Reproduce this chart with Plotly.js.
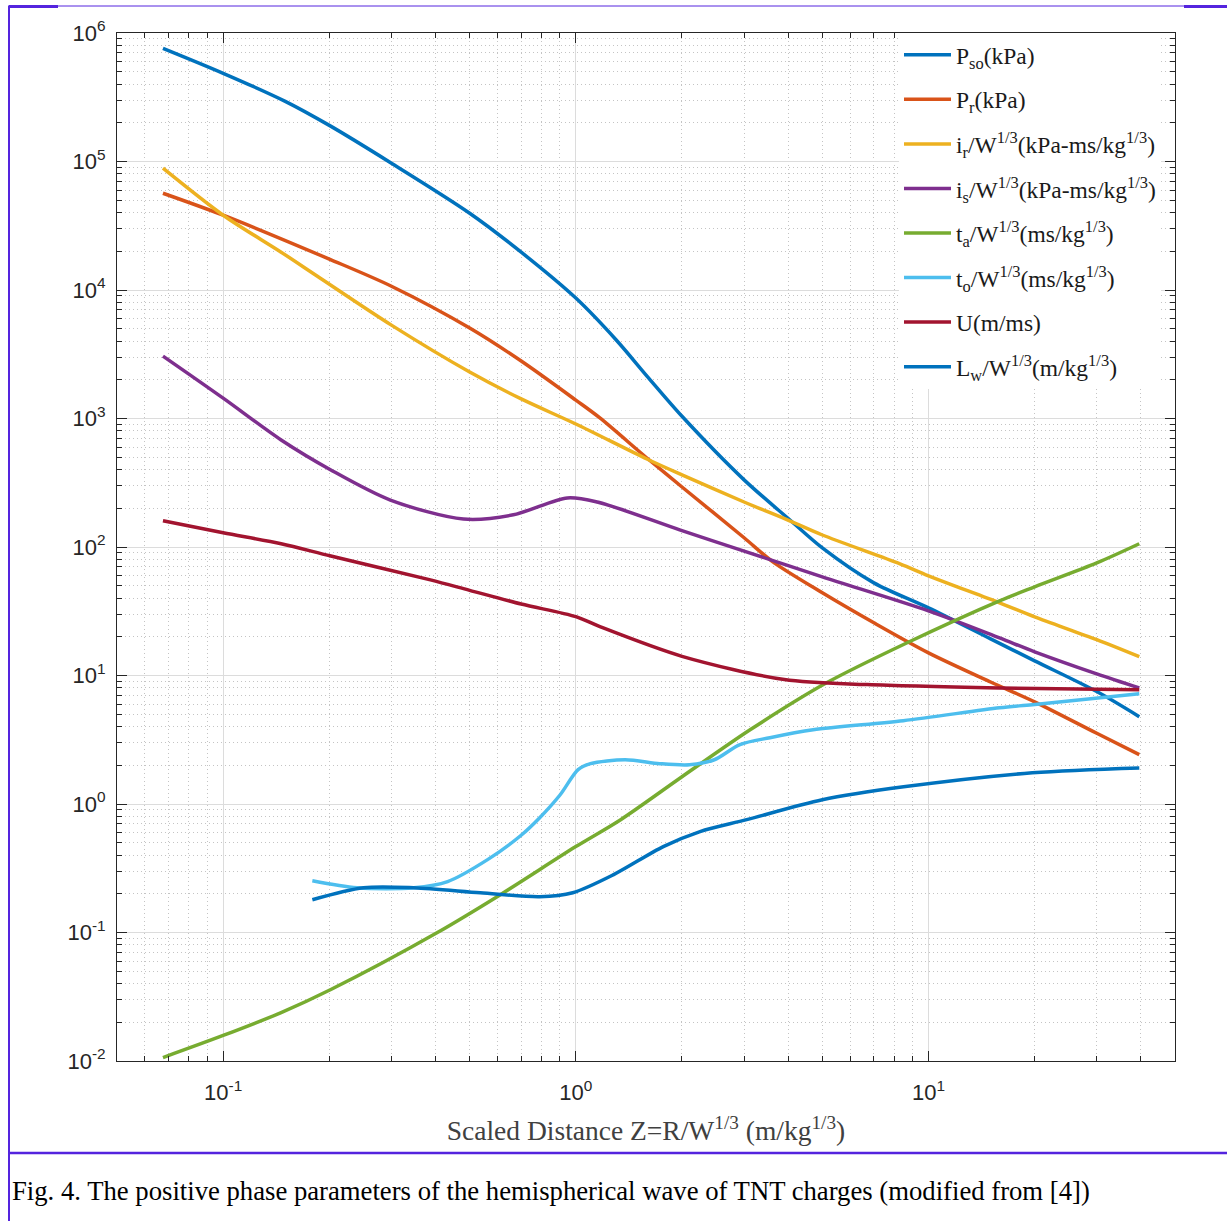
<!DOCTYPE html>
<html>
<head>
<meta charset="utf-8">
<script src="https://cdn.plot.ly/plotly-3.0.1.min.js"></script>
<style>
  html, body { margin: 0; padding: 0; background: #ffffff; }
  #chart { width: 1227px; height: 1221px; }
</style>
</head>
<body>
<div id="chart"></div>
<script>
// ---------------- data ----------------
const seriesNames = [
  'P<sub>so</sub>(kPa)',
  'P<sub>r</sub>(kPa)',
  'i<sub>r</sub>/W<sup>1/3</sup>(kPa-ms/kg<sup>1/3</sup>)',
  'i<sub>s</sub>/W<sup>1/3</sup>(kPa-ms/kg<sup>1/3</sup>)',
  't<sub>a</sub>/W<sup>1/3</sup>(ms/kg<sup>1/3</sup>)',
  't<sub>o</sub>/W<sup>1/3</sup>(ms/kg<sup>1/3</sup>)',
  'U(m/ms)',
  'L<sub>w</sub>/W<sup>1/3</sup>(m/kg<sup>1/3</sup>)'
];
const seriesColors = ['#0072BD', '#D95319', '#EDB120', '#7E2F8E', '#77AC30', '#4DBEEE', '#A2142F', '#0072BD'];

const psoZ = [0.0675, 0.1, 0.15, 0.2, 0.3, 0.5, 0.7, 1.0, 1.3, 1.6, 2.0, 3.0, 4.04, 5.0, 7.0, 10, 15, 20, 30, 39.6];
const psoV = [7.6e5, 4.86e5, 2.94e5, 1.91e5, 9.7e4, 3.96e4, 1.97e4, 8.65e3, 4.1e3, 2.1e3, 1.04e3, 333, 163, 98.4, 52.6, 33.6, 19.3, 13.0, 7.5, 4.78];

const prZ = [0.0675, 0.1, 0.2, 0.3, 0.5, 0.7, 1.0, 1.17, 1.59, 2.0, 3.0, 3.62, 5.0, 7.0, 10, 15, 20, 30, 39.6];
const prV = [5.66e4, 3.82e4, 1.74e4, 1.07e4, 5.06e3, 2.8e3, 1.39e3, 1.01e3, 493, 293, 118, 76.6, 44, 25.7, 15.0, 8.9, 6.24, 3.55, 2.42];

const irZ = [0.0675, 0.1, 0.146, 0.185, 0.3, 0.5, 0.7, 1.0, 1.59, 2.0, 3.0, 4.04, 5.0, 8.3, 10, 15.9, 20, 30, 39.6];
const irV = [8.87e4, 3.82e4, 1.97e4, 1.28e4, 5.33e3, 2.3e3, 1.42e3, 906, 484, 364, 224, 160, 124, 74, 59.7, 36.8, 28.6, 19, 14];

const isZ = [0.0675, 0.1, 0.146, 0.202, 0.298, 0.48, 0.665, 0.946, 1.15, 1.97, 3.0, 5.0, 10, 15.9, 20, 30, 39.6];
const isV = [3060, 1440, 681, 398, 232, 165, 178, 241, 224, 136, 93, 58.5, 31.8, 19.6, 15.3, 10.3, 8.0];

const taZ = [0.0675, 0.1, 0.146, 0.202, 0.405, 0.611, 1.0, 1.34, 2.0, 3.12, 5.14, 8.67, 15.9, 20, 30, 39.6];
const taV = [0.01064, 0.0158, 0.0238, 0.036, 0.1, 0.197, 0.466, 0.755, 1.63, 3.78, 8.77, 17.9, 38.1, 49, 75.2, 106];

const toZ = [0.179, 0.24, 0.347, 0.433, 0.562, 0.697, 0.79, 0.903, 1.015, 1.1, 1.38, 1.73, 2.1, 2.47, 2.92, 3.55, 4.71, 8.48, 15.9, 19.7, 39.6];
const toV = [0.253, 0.223, 0.223, 0.249, 0.369, 0.566, 0.782, 1.18, 1.85, 2.06, 2.21, 2.06, 2.02, 2.21, 2.9, 3.28, 3.78, 4.45, 5.61, 5.93, 7.21];

const uZ = [0.0675, 0.1, 0.146, 0.202, 0.387, 0.5, 0.7, 1.0, 1.17, 2.0, 3.9, 6.7, 15.9, 39.6];
const uV = [160, 129, 106, 85, 55.5, 46, 36, 28.7, 24, 14.1, 9.3, 8.5, 8.0, 7.74];

const lwZ = [0.179, 0.25, 0.347, 0.536, 0.79, 0.98, 1.28, 1.77, 2.25, 3.05, 5.0, 8.5, 19.7, 39.6];
const lwV = [0.18, 0.223, 0.223, 0.204, 0.19, 0.204, 0.282, 0.466, 0.61, 0.755, 1.08, 1.36, 1.75, 1.91];

const xTickVals = [0.1, 1, 10];
const xTickText = ['10<sup>-1</sup>', '10<sup>0</sup>', '10<sup>1</sup>'];
const yTickVals = [1e-2, 1e-1, 1, 10, 100, 1e3, 1e4, 1e5, 1e6];
const yTickText = ['10<sup>-2</sup>', '10<sup>-1</sup>', '10<sup>0</sup>', '10<sup>1</sup>', '10<sup>2</sup>',
                   '10<sup>3</sup>', '10<sup>4</sup>', '10<sup>5</sup>', '10<sup>6</sup>'];
const xTitle = 'Scaled Distance Z=R/W<sup>1/3</sup> (m/kg<sup>1/3</sup>)';
const caption = 'Fig. 4. The positive phase parameters of the hemispherical wave of TNT charges (modified from [4])';

// ---------------- build ----------------
const allZ = [psoZ, prZ, irZ, isZ, taZ, toZ, uZ, lwZ];
const allV = [psoV, prV, irV, isV, taV, toV, uV, lwV];
const traces = allZ.map((z, i) => ({
  type: 'scatter', mode: 'lines', x: z, y: allV[i], name: seriesNames[i],
  legendgroup: 'g' + i,
  line: { color: seriesColors[i], width: 3.5, shape: 'spline', smoothing: 0.85 }
}));

// minor tick positions (2..9 of each decade)
function minorVals(e0, e1) {
  const out = [];
  for (let e = e0; e <= e1; e++) for (let m = 2; m <= 9; m++) out.push(m * Math.pow(10, e));
  return out;
}

// page geometry helpers (pixels -> paper)
const W = 1227, H = 1221;
const mL = 117, mR = 52, mT = 33, mB = 160;
const pw = W - mL - mR, ph = H - mT - mB;
const px = v => (v - mL) / pw;
const py = v => (H - mB - v) / ph;
const borderColor = '#5424de';
const serif = 'Liberation Serif, Times New Roman, serif';

const axisCommon = {
  type: 'log', showline: true, linecolor: '#262626', linewidth: 1, mirror: 'ticks',
  ticks: 'inside', ticklen: 10, tickwidth: 1, tickcolor: '#262626',
  showgrid: true, gridcolor: '#dcdcdc', gridwidth: 1, zeroline: false,
  tickfont: { family: 'Liberation Sans, Arial, sans-serif', size: 22, color: '#262626' },
  tickmode: 'array'
};
const minorCommon = { tickmode: 'array', ticks: 'inside', ticklen: 5, tickcolor: '#262626',
                      showgrid: true, gridcolor: '#c4c4c4', griddash: '1px,3px', gridwidth: 1 };

const layout = {
  width: W, height: H,
  margin: { l: mL, r: mR, t: mT, b: mB },
  paper_bgcolor: '#ffffff', plot_bgcolor: '#ffffff',
  showlegend: true,
  xaxis: Object.assign({}, axisCommon, {
    range: [Math.log10(0.05), Math.log10(50)],
    tickvals: xTickVals, ticktext: xTickText, ticklabelstandoff: 12,
    minor: Object.assign({ tickvals: minorVals(-2, 1) }, minorCommon),
    title: { text: xTitle, standoff: 16, font: { family: serif, size: 27.5, color: '#404040' } }
  }),
  yaxis: Object.assign({}, axisCommon, {
    range: [-2, 6],
    tickvals: yTickVals, ticktext: yTickText, ticklabelstandoff: 6,
    minor: Object.assign({ tickvals: minorVals(-2, 5) }, minorCommon)
  }),
  legend: {
    x: px(899), y: 1, xanchor: 'left', yanchor: 'top',
    bgcolor: '#ffffff', borderwidth: 0, itemwidth: 47, tracegroupgap: 11,
    font: { family: serif, size: 23.5, color: '#1a1a1a' }
  },
  annotations: [{
    xref: 'paper', yref: 'paper', x: px(10), y: py(1191), xanchor: 'left', yanchor: 'middle',
    text: caption, showarrow: false,
    font: { family: serif, size: 26.7, color: '#000000' }
  }],
  shapes: [
    { type: 'line', xref: 'paper', yref: 'paper', x0: px(9), x1: px(9), y0: py(1221), y1: py(5.5), line: { color: borderColor, width: 2 } },
    { type: 'line', xref: 'paper', yref: 'paper', x0: px(9), x1: px(1227), y0: py(6), y1: py(6), line: { color: borderColor, width: 1 } },
    { type: 'line', xref: 'paper', yref: 'paper', x0: px(9), x1: px(58), y0: py(6.5), y1: py(6.5), line: { color: borderColor, width: 3 } },
    { type: 'line', xref: 'paper', yref: 'paper', x0: px(1184), x1: px(1227), y0: py(6.5), y1: py(6.5), line: { color: borderColor, width: 3 } },
    { type: 'line', xref: 'paper', yref: 'paper', x0: px(9), x1: px(1227), y0: py(1153), y1: py(1153), line: { color: borderColor, width: 2.5 } }
  ]
};

Plotly.newPlot('chart', traces, layout, { displayModeBar: false, staticPlot: true });
</script>
</body>
</html>
